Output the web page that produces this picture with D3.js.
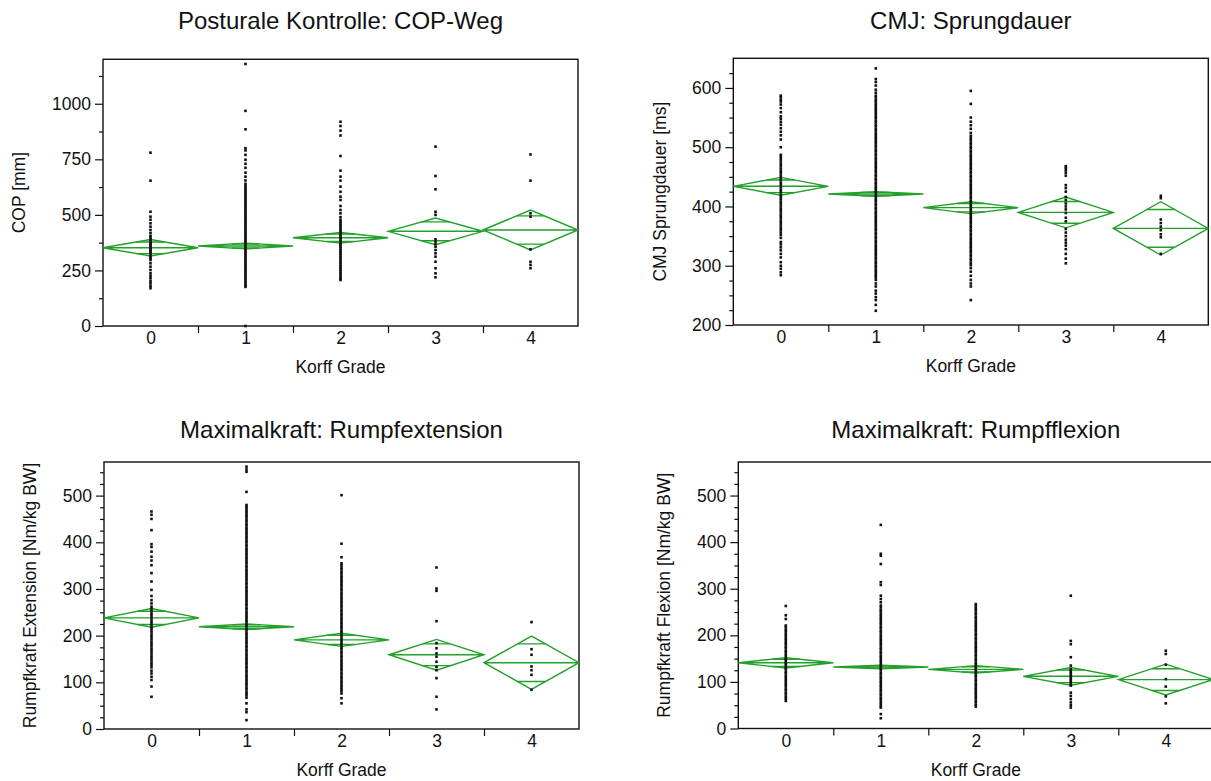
<!DOCTYPE html>
<html>
<head>
<meta charset="utf-8">
<script src="https://cdn.jsdelivr.net/npm/d3@7"></script>
<style>
  body { margin: 0; background: #fff; }
  svg { display: block; font-family: "Liberation Sans", Arial, sans-serif; }
</style>
</head>
<body>
<svg id="chart" width="1211" height="781"></svg>
<script>
const grades = ['0', '1', '2', '3', '4'];
const xTitle = 'Korff Grade';

// Posturale Kontrolle: COP-Weg
const copTicks = [0, 250, 500, 750, 1000];
const copMinor = [125, 375, 625, 875, 1125];
const copMean = [352, 360, 397, 426, 432];
const copHalfCI = [37, 13, 24, 60, 90];
const copPoints = [
  [780, 654, 514, 492, 478, 462, 447, 432, 418, 405, 398, 390, 383, 376, 370, 364, 358, 352, 346, 340, 334, 328, 320, 312, 305, 297, 282, 267, 252, 237, 226, 215, 203, 192, 181, 170],
  [1179, 968, 885, 800, 790, 770, 748, 730, 712, 690, 672, 655, 640, 630, 622, 614, 606, 598, 590, 582, 574, 566, 558, 550, 542, 534, 526, 518, 510, 502, 494, 486, 478, 470, 462, 454, 446, 438, 430, 422, 414, 406, 398, 390, 382, 374, 366, 358, 350, 342, 334, 326, 318, 310, 302, 294, 286, 278, 270, 262, 254, 246, 238, 230, 222, 214, 206, 198, 190, 182, 176, 0],
  [919, 900, 879, 857, 765, 699, 672, 654, 627, 604, 582, 567, 540, 522, 507, 490, 478, 469, 461, 453, 445, 437, 429, 421, 413, 405, 397, 389, 381, 373, 365, 357, 349, 341, 333, 325, 317, 309, 301, 293, 285, 277, 269, 261, 253, 245, 237, 229, 221, 213, 207],
  [807, 675, 615, 514, 500, 390, 380, 369, 357, 342, 327, 312, 289, 260, 237, 219],
  [772, 654, 507, 492, 345, 289, 275, 260]
];

// CMJ: Sprungdauer
const cmjTicks = [200, 300, 400, 500, 600];
const cmjMinor = [225, 250, 275, 325, 350, 375, 425, 450, 475, 525, 550, 575, 625];
const cmjMean = [434, 421, 398, 390, 363];
const cmjHalfCI = [15, 4, 10, 26, 45];
const cmjPoints = [
  [587, 584, 580, 577, 572, 566, 559, 552, 548, 543, 538, 532, 526, 520, 513, 500, 487, 484, 480, 476, 472, 468, 464, 460, 456, 452, 448, 444, 440, 436, 432, 428, 424, 420, 416, 412, 408, 404, 400, 396, 392, 388, 384, 380, 376, 372, 368, 364, 360, 356, 352, 347, 340, 336, 331, 326, 320, 314, 306, 300, 295, 289, 284],
  [633, 615, 610, 604, 597, 592, 587, 584, 580, 577, 573, 570, 566, 563, 559, 556, 552, 549, 545, 542, 538, 535, 531, 528, 524, 521, 517, 514, 510, 507, 503, 500, 496, 493, 489, 486, 482, 479, 475, 472, 468, 465, 461, 458, 454, 451, 447, 444, 440, 437, 433, 430, 426, 423, 419, 416, 412, 409, 405, 402, 398, 395, 391, 388, 384, 381, 377, 374, 370, 367, 363, 360, 356, 353, 349, 346, 342, 339, 335, 332, 328, 325, 321, 318, 314, 311, 307, 304, 300, 297, 293, 290, 286, 283, 280, 276, 270, 265, 258, 253, 247, 242, 234, 224],
  [595, 573, 550, 543, 537, 531, 524, 519, 515, 512, 508, 505, 501, 498, 494, 491, 487, 484, 480, 477, 473, 470, 466, 463, 459, 456, 452, 449, 445, 442, 438, 435, 431, 428, 424, 421, 417, 414, 410, 407, 403, 400, 396, 393, 389, 386, 382, 379, 375, 372, 368, 365, 361, 358, 354, 351, 347, 344, 340, 337, 333, 330, 326, 323, 319, 316, 312, 309, 305, 301, 296, 290, 283, 276, 270, 265, 242],
  [468, 465, 461, 457, 452, 436, 431, 425, 416, 411, 405, 400, 395, 389, 381, 375, 362, 356, 350, 344, 339, 334, 328, 320, 312, 304],
  [418, 414, 378, 372, 366, 360, 353, 348, 320]
];

// Maximalkraft: Rumpfextension
const forceTicks = [0, 100, 200, 300, 400, 500];
const forceMinor = [25, 50, 75, 125, 150, 175, 225, 250, 275, 325, 350, 375, 425, 450, 475, 525, 550];
const extMean = [238, 219, 191, 159, 142];
const extHalfCI = [20, 6, 14, 33, 57];
const extPoints = [
  [466, 459, 450, 426, 396, 390, 380, 369, 361, 351, 334, 316, 298, 285, 276, 269, 262, 257, 252, 247, 242, 237, 232, 227, 222, 217, 212, 207, 202, 197, 192, 187, 182, 177, 172, 167, 162, 157, 152, 147, 142, 137, 132, 125, 119, 112, 105, 91, 69],
  [562, 556, 551, 508, 480, 476, 472, 467, 463, 458, 454, 449, 445, 440, 436, 431, 427, 422, 418, 413, 409, 404, 400, 395, 391, 386, 382, 377, 373, 368, 364, 359, 355, 350, 346, 341, 337, 332, 328, 323, 319, 314, 310, 305, 301, 296, 292, 287, 283, 278, 274, 269, 265, 260, 256, 251, 247, 242, 238, 233, 229, 224, 220, 215, 211, 206, 202, 197, 193, 188, 184, 179, 175, 170, 166, 161, 157, 152, 148, 143, 139, 134, 130, 125, 121, 116, 112, 107, 103, 98, 94, 89, 85, 80, 76, 72, 67, 55, 42, 36, 19],
  [501, 397, 368, 355, 351, 346, 342, 337, 333, 328, 324, 319, 315, 310, 306, 301, 297, 292, 288, 283, 279, 274, 270, 265, 261, 256, 252, 247, 243, 238, 234, 229, 225, 220, 216, 211, 207, 202, 198, 193, 189, 184, 180, 175, 171, 166, 162, 157, 153, 148, 144, 139, 135, 130, 126, 121, 117, 112, 108, 103, 99, 94, 90, 85, 81, 76, 66, 55],
  [346, 301, 296, 231, 184, 173, 162, 155, 144, 133, 126, 109, 69, 42],
  [229, 171, 159, 134, 126, 116, 84]
];

// Maximalkraft: Rumpfflexion
const flexMean = [141, 132, 127, 112, 105];
const flexHalfCI = [11, 4, 8, 19, 33];
const flexPoints = [
  [263, 243, 235, 221, 217, 212, 208, 203, 199, 194, 190, 185, 181, 176, 172, 167, 163, 158, 154, 149, 145, 140, 136, 131, 127, 122, 118, 113, 109, 104, 100, 95, 91, 86, 82, 77, 73, 68, 64, 59],
  [437, 375, 371, 353, 314, 308, 285, 278, 271, 264, 260, 255, 251, 246, 242, 237, 233, 228, 224, 219, 215, 210, 206, 201, 197, 192, 188, 183, 179, 174, 170, 165, 161, 156, 152, 147, 143, 138, 134, 129, 125, 120, 116, 111, 107, 102, 98, 93, 89, 84, 80, 75, 71, 66, 62, 57, 53, 48, 45, 31, 22],
  [267, 263, 258, 254, 249, 245, 240, 236, 231, 227, 222, 218, 213, 209, 204, 200, 195, 191, 186, 182, 177, 173, 168, 164, 159, 155, 150, 146, 141, 137, 132, 128, 123, 119, 114, 110, 105, 101, 96, 92, 87, 83, 78, 74, 69, 65, 60, 56, 51, 47],
  [285, 188, 181, 153, 135, 127, 123, 119, 115, 111, 107, 103, 99, 95, 92, 77, 70, 63, 56, 50, 45],
  [167, 160, 137, 106, 90, 69, 54]
];

const diamondColor = '#22a02a';

class OnewayPanel {
  constructor (svg, opts) {
    this.opts = opts;
    this.g = svg.append('g');
    this.x = null;
    this.y = null;
  }

  render () {
    this.initScales();
    this.drawFrame();
    this.drawAxes();
    this.drawDiamonds();
    this.drawPoints();
    this.drawTexts();
  }

  initScales () {
    const o = this.opts;
    this.x = d3.scaleLinear().domain([-0.5, grades.length - 0.5]).range([o.left, o.right]);
    this.y = d3.scaleLinear().domain(o.domain).range([o.bottom, o.top]);
  }

  drawFrame () {
    const o = this.opts;
    this.g.append('rect')
      .attr('x', o.left)
      .attr('y', o.top)
      .attr('width', o.right - o.left)
      .attr('height', o.bottom - o.top)
      .attr('fill', 'none')
      .attr('stroke', '#111')
      .attr('stroke-width', 1.4);
  }

  styleAxis (sel) {
    sel.select('.domain').remove();
    sel.selectAll('line').attr('stroke', '#111').attr('stroke-width', 1.2);
    sel.selectAll('text')
      .attr('fill', '#111')
      .style('font-family', '"Liberation Sans", Arial, sans-serif')
      .style('font-size', '17.5px');
  }

  drawAxes () {
    const o = this.opts;

    this.g.append('g')
      .attr('transform', 'translate(' + o.left + ',0)')
      .call(d3.axisLeft(this.y).tickValues(o.minor).tickSize(4).tickFormat(''))
      .call((s) => this.styleAxis(s));

    this.g.append('g')
      .attr('transform', 'translate(' + o.left + ',0)')
      .call(d3.axisLeft(this.y).tickValues(o.ticks).tickSize(8).tickPadding(4).tickFormat(d3.format('d')))
      .call((s) => this.styleAxis(s));

    // group separators below the axis
    this.g.append('g')
      .attr('transform', 'translate(0,' + o.bottom + ')')
      .call(d3.axisBottom(this.x).tickValues([0.5, 1.5, 2.5, 3.5]).tickSize(7).tickFormat(''))
      .call((s) => this.styleAxis(s));

    this.g.append('g')
      .attr('transform', 'translate(0,' + o.bottom + ')')
      .call(d3.axisBottom(this.x).tickValues(d3.range(grades.length)).tickSize(0).tickPadding(6)
        .tickFormat((i) => grades[i]))
      .call((s) => this.styleAxis(s));
  }

  drawDiamonds () {
    const x = this.x;
    const y = this.y;
    const o = this.opts;
    const rows = o.mean.map((m, i) => ({i: i, mean: m, half: o.half[i]}));
    const k = 1 - 1 / Math.SQRT2;

    const dg = this.g.append('g')
      .attr('fill', 'none')
      .attr('stroke', diamondColor)
      .attr('stroke-width', 1.4);

    dg.selectAll('path.diamond')
      .data(rows)
      .enter()
      .append('path')
      .attr('class', 'diamond')
      .attr('d', (d) => {
        return 'M' + x(d.i - 0.5) + ',' + y(d.mean) +
          'L' + x(d.i) + ',' + y(d.mean + d.half) +
          'L' + x(d.i + 0.5) + ',' + y(d.mean) +
          'L' + x(d.i) + ',' + y(d.mean - d.half) + 'Z' +
          'M' + x(d.i - 0.5) + ',' + y(d.mean) + 'H' + x(d.i + 0.5);
      });

    // overlap marks
    dg.selectAll('path.overlap')
      .data(rows)
      .enter()
      .append('path')
      .attr('class', 'overlap')
      .attr('d', (d) => {
        const w = (x(d.i + 0.5) - x(d.i - 0.5)) / 2 * k;
        const off = d.half / Math.SQRT2;
        return 'M' + (x(d.i) - w) + ',' + y(d.mean + off) + 'H' + (x(d.i) + w) +
          'M' + (x(d.i) - w) + ',' + y(d.mean - off) + 'H' + (x(d.i) + w);
      });
  }

  drawPoints () {
    const s = 2.6;
    const flat = [];
    this.opts.points.forEach((vals, i) => {
      vals.forEach((v) => flat.push({i: i, v: v}));
    });

    this.g.append('g')
      .selectAll('rect')
      .data(flat)
      .enter()
      .append('rect')
      .attr('x', (d) => this.x(d.i) - s / 2)
      .attr('y', (d) => this.y(d.v) - s / 2)
      .attr('width', s)
      .attr('height', s)
      .attr('fill', '#111');
  }

  drawTexts () {
    const o = this.opts;
    const cx = (o.left + o.right) / 2;

    this.g.append('text')
      .attr('x', cx)
      .attr('y', o.titleY)
      .attr('text-anchor', 'middle')
      .style('font-size', '24px')
      .attr('fill', '#111')
      .text(o.title);

    this.g.append('text')
      .attr('x', cx)
      .attr('y', o.bottom + 47)
      .attr('text-anchor', 'middle')
      .style('font-size', '17.5px')
      .attr('fill', '#111')
      .text(xTitle);

    this.g.append('text')
      .attr('transform', 'translate(' + o.yLabelX + ',' + (o.top + o.bottom) / 2 + ') rotate(-90)')
      .attr('text-anchor', 'middle')
      .style('font-size', '17.5px')
      .attr('fill', '#111')
      .text(o.yTitle);
  }
}

const svg = d3.select('#chart');

new OnewayPanel(svg, {
  title: 'Posturale Kontrolle: COP-Weg', yTitle: 'COP [mm]',
  left: 103, right: 578, top: 59.3, bottom: 326, titleY: 29, yLabelX: 24.5,
  domain: [0, 1200], ticks: copTicks, minor: copMinor,
  mean: copMean, half: copHalfCI, points: copPoints
}).render();

new OnewayPanel(svg, {
  title: 'CMJ: Sprungdauer', yTitle: 'CMJ Sprungdauer [ms]',
  left: 733.3, right: 1208.3, top: 58.3, bottom: 325, titleY: 29, yLabelX: 665.5,
  domain: [200, 650], ticks: cmjTicks, minor: cmjMinor,
  mean: cmjMean, half: cmjHalfCI, points: cmjPoints
}).render();

new OnewayPanel(svg, {
  title: 'Maximalkraft: Rumpfextension', yTitle: 'Rumpfkraft Extension [Nm/kg BW]',
  left: 104, right: 579, top: 462, bottom: 729, titleY: 438.3, yLabelX: 36,
  domain: [0, 572], ticks: forceTicks, minor: forceMinor,
  mean: extMean, half: extHalfCI, points: extPoints
}).render();

new OnewayPanel(svg, {
  title: 'Maximalkraft: Rumpfflexion', yTitle: 'Rumpfkraft Flexion [Nm/kg BW]',
  left: 738.3, right: 1213.3, top: 462, bottom: 728.5, titleY: 438.3, yLabelX: 670.2,
  domain: [0, 572], ticks: forceTicks, minor: forceMinor,
  mean: flexMean, half: flexHalfCI, points: flexPoints
}).render();
</script>
</body>
</html>
